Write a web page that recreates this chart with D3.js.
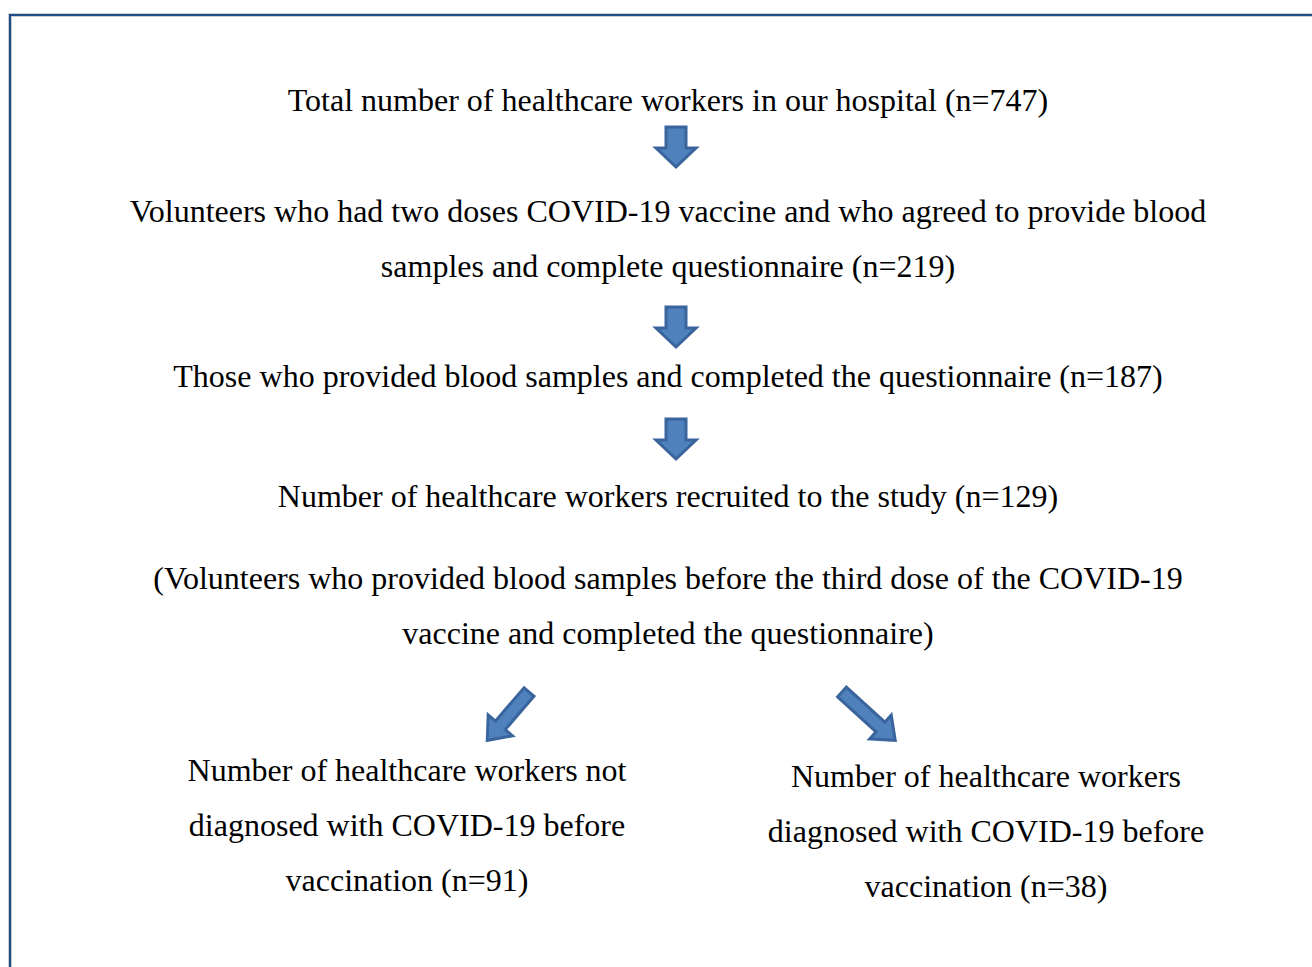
<!DOCTYPE html>
<html>
<head>
<meta charset="utf-8">
<script src="https://cdn.jsdelivr.net/npm/d3@7"></script>
<style>
  body { margin: 0; background: #fff; }
  svg { display: block; }
</style>
</head>
<body>
<svg id="chart"></svg>
<script>
// flow steps, one text block per step
var steps = [
  ['Total number of healthcare workers in our hospital (n=747)'],
  ['Volunteers who had two doses COVID-19 vaccine and who agreed to provide blood',
   'samples and complete questionnaire (n=219)'],
  ['Those who provided blood samples and completed the questionnaire (n=187)'],
  ['Number of healthcare workers recruited to the study (n=129)'],
  ['(Volunteers who provided blood samples before the third dose of the COVID-19',
   'vaccine and completed the questionnaire)']
]
var branches = [
  ['Number of healthcare workers not', 'diagnosed with COVID-19 before', 'vaccination (n=91)'],
  ['Number of healthcare workers', 'diagnosed with COVID-19 before', 'vaccination (n=38)']
]
var counts = [747, 219, 187, 129, 91, 38]

var W = 1312, H = 967
var svg = d3.select('#chart').attr('width', W).attr('height', H)

// frame (runs off right and bottom)
svg.append('path')
    .attr('d', 'M10,' + (H + 5) + 'V15H' + (W + 5))
    .attr('fill', 'none')
    .attr('stroke', '#c9ced6')
    .attr('stroke-width', 4)
svg.append('path')
    .attr('d', 'M10,' + (H + 5) + 'V15H' + (W + 5))
    .attr('fill', 'none')
    .attr('stroke', '#1f4e86')
    .attr('stroke-width', 2)

var lineGap = 55
var cx = 668
var stepY = [100, 211, 376, 496, 578]   // first line of each step
var branchX = d3.scalePoint().domain([0, 1]).range([407, 986])
var branchY = [770, 776]

var font = "'Liberation Serif', 'Times New Roman', Times, serif"

function writeBlock(lines, x, y) {
  svg.append('g').selectAll('text')
      .data(lines)
      .enter()
      .append('text')
      .attr('x', x)
      .attr('y', function(d, i){ return y + i * lineGap })
      .attr('text-anchor', 'middle')
      .attr('dominant-baseline', 'central')
      .attr('font-family', font)
      .attr('font-size', 32)
      .attr('fill', '#000')
      .text(function(d){ return d })
}

steps.forEach(function(s, i){ writeBlock(s, cx, stepY[i]) })
branches.forEach(function(b, i){ writeBlock(b, branchX(i), branchY[i]) })

// block arrow pointing along +x, tail at origin
function arrowPath(L, h, sw, hw) {
  var p = d3.path()
  p.moveTo(0, -sw / 2)
  p.lineTo(L - h, -sw / 2)
  p.lineTo(L - h, -hw / 2)
  p.lineTo(L, 0)
  p.lineTo(L - h, hw / 2)
  p.lineTo(L - h, sw / 2)
  p.lineTo(0, sw / 2)
  p.closePath()
  return p.toString()
}

var downArrows = [127, 307, 419]
svg.selectAll('path.down')
    .data(downArrows)
    .enter()
    .append('path')
    .attr('class', 'down')
    .attr('d', arrowPath(40, 19, 20, 40))
    .attr('transform', function(d){ return 'translate(' + 676 + ',' + d + ') rotate(90)' })
    .attr('fill', '#4f81bd')
    .attr('stroke', '#3a649c')
    .attr('stroke-width', 3)
    .attr('stroke-linejoin', 'miter')

var diag = [
  {x: 529, y: 692, a: 130.7, L: 64},
  {x: 842, y: 692, a: 42.3, L: 72}
]
svg.selectAll('path.diag')
    .data(diag)
    .enter()
    .append('path')
    .attr('class', 'diag')
    .attr('d', function(d){ return arrowPath(d.L, 20, 13, 32) })
    .attr('transform', function(d){ return 'translate(' + d.x + ',' + d.y + ') rotate(' + d.a + ')' })
    .attr('fill', '#4f81bd')
    .attr('stroke', '#3a649c')
    .attr('stroke-width', 3)
</script>
</body>
</html>
